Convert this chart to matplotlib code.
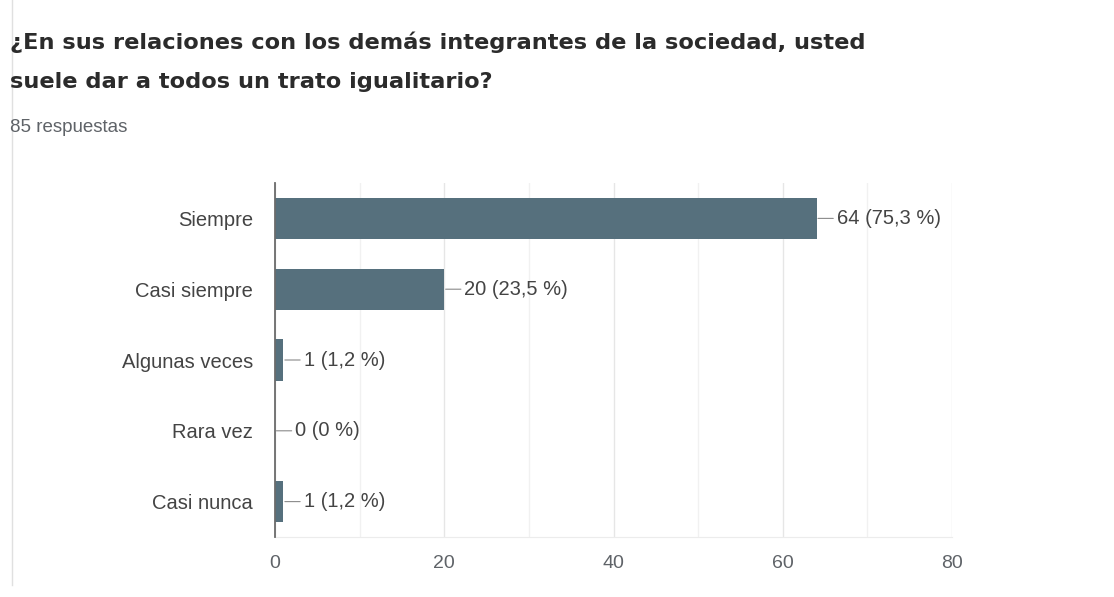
import matplotlib.pyplot as plt
from matplotlib.ticker import MultipleLocator

plt.rcParams['font.family'] = ['Liberation Sans', 'DejaVu Sans']

categories = ["Siempre", "Casi siempre", "Algunas veces", "Rara vez", "Casi nunca"]
counts = [64, 20, 1, 0, 1]
percents = ["75,3", "23,5", "1,2", "0", "1,2"]
title_lines = ["¿En sus relaciones con los demás integrantes de la sociedad, usted",
               "suele dar a todos un trato igualitario?"]
subtitle = "85 respuestas"

W, H = 1114, 597
fig = plt.figure(figsize=(W / 100, H / 100), dpi=100)

# title block
for k, line in enumerate(title_lines):
    fig.text(10 / W, 1 - (42 + 40 * k) / H, line, fontsize=16.2, fontweight='bold',
             family='DejaVu Sans', color='#2b2b2b', va='center', ha='left')
fig.text(10 / W, 1 - 127 / H, subtitle, fontsize=13.5, color='#5f6368',
         va='center', ha='left')

# faint page border on the left
fig.add_artist(plt.Line2D([12 / W, 12 / W], [1 - 585 / H, 1.0],
                          color='#e0e0e0', lw=1))

ax = fig.add_axes([275 / W, 1 - 537 / H, (952 - 275) / W, (537 - 183) / H])

y = list(range(len(categories)))
ax.barh(y, counts, height=0.58, color='#56707d')

for i, (c, p) in enumerate(zip(counts, percents)):
    ax.annotate(f"{c} ({p} %)", xy=(c, i), xytext=(14.5, 0),
                textcoords='offset points', ha='left', va='center',
                fontsize=14.5, color='#444444',
                arrowprops=dict(arrowstyle='-', color='#8a8a8a', lw=0.8,
                                shrinkA=0.5, shrinkB=1))

ax.set_xlim(0, 80)
ax.set_ylim(len(categories) - 0.5, -0.5)
ax.set_yticks(y)
ax.set_yticklabels(categories, fontsize=14.5, color='#444444')
ax.xaxis.set_major_locator(MultipleLocator(20))
ax.xaxis.set_minor_locator(MultipleLocator(10))
ax.tick_params(axis='x', which='both', length=0, pad=13, labelsize=14,
               labelcolor='#5f6368')
ax.tick_params(axis='y', length=0, pad=16)
ax.grid(axis='x', which='major', color='#e6e6e6', lw=1)
ax.grid(axis='x', which='minor', color='#f1f1f1', lw=1)
ax.set_axisbelow(True)

for s in ['top', 'right']:
    ax.spines[s].set_visible(False)
ax.spines['bottom'].set_color('#ececec')
ax.spines['left'].set_color('#6b6b6b')
ax.spines['left'].set_linewidth(1.3)
ax.spines['left'].set_zorder(5)

fig.savefig("out.png", dpi=100)
